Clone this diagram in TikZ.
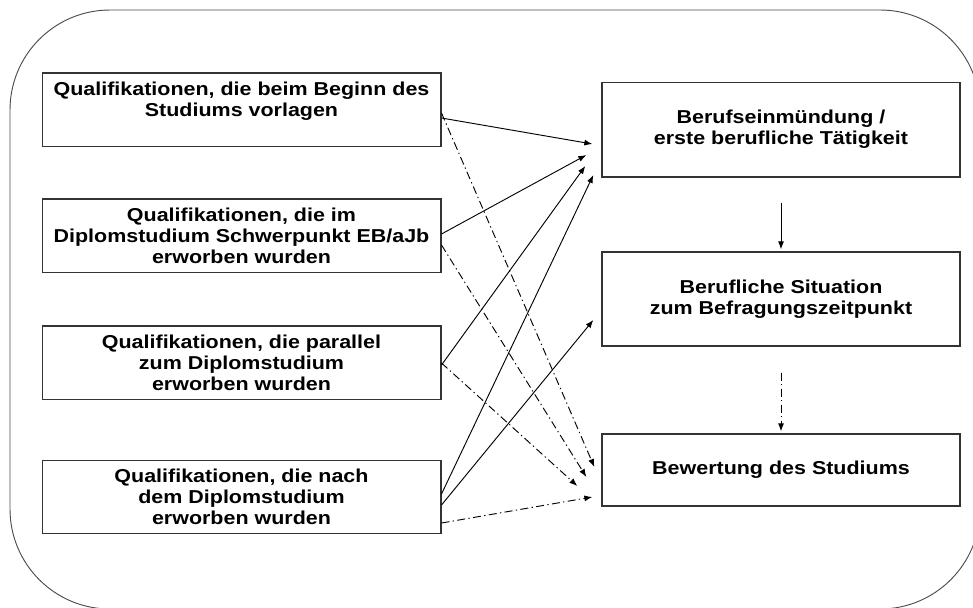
\documentclass[tikz,border=0pt]{standalone}
\usepackage{fontspec}
\setmainfont{Liberation Sans}[FakeStretch=1.15]
\usetikzlibrary{arrows.meta,calc}

\tikzset{
  qual/.style={rectangle,draw=black!80,line width=1pt,minimum width=299pt,minimum height=55pt,
    align=center,font=\fontsize{14}{15.75}\selectfont\bfseries},
  ziel/.style={qual,minimum width=268.5pt},
  pfeil/.style={-{Latex[length=6pt,width=4.5pt]},line width=0.7pt},
  strichpkt/.style={pfeil,dash pattern=on 6pt off 2.5pt on 1pt off 2.5pt}
}

\begin{document}
\begin{tikzpicture}[x=0.75pt,y=-0.75pt]
  \useasboundingbox (0,0) rectangle (973,607);
  \clip (0,0) rectangle (973,607);
  \draw[black!70,line width=0.7pt,rounded corners=75pt] (10,10) rectangle (980,609);

  % Qualifikationen links
  \node[qual] (q1) at (241.5,109.5) {Qualifikationen, die beim Beginn des\\Studiums vorlagen\\\mbox{}};
  \node[qual] (q2) at (241.5,235.5) {Qualifikationen, die im\\Diplomstudium Schwerpunkt EB/aJb\\erworben wurden};
  \node[qual] (q3) at (241.5,362.5) {Qualifikationen, die parallel\\zum Diplomstudium\\erworben wurden};
  \node[qual] (q4) at (241.5,497) {Qualifikationen, die nach\\dem Diplomstudium\\erworben wurden};

  % Ergebnisse rechts
  \node[ziel,minimum height=71pt] (z1) at (781,129.5) {Berufseinmündung /\\erste berufliche Tätigkeit};
  \node[ziel,minimum height=70.5pt] (z2) at (781,299) {Berufliche Situation\\zum Befragungszeitpunkt};
  \node[ziel,minimum height=54pt] (z3) at (781,470) {Bewertung des Studiums};

  \draw[pfeil] ($(q1.east)+(0,8.5)$) -- ($(z1.west)+(-9,14.5)$);
  \draw[pfeil] ($(q2.east)+(0,-1.5)$) -- ($(z1.west)+(-15,25.5)$);
  \draw[pfeil] ($(q3.east)+(0,2.5)$) -- ($(z1.west)+(-16,36.5)$);
  \draw[pfeil] ($(q4.east)+(0,-3)$) -- ($(z1.west)+(-8,45.5)$);
  \draw[pfeil] ($(q4.east)+(0,8)$) -- ($(z2.west)+(-8,21)$);

  \draw[strichpkt] ($(q1.east)+(0,3.5)$) -- ($(z3.west)+(-7,-3)$);
  \draw[strichpkt] ($(q2.east)+(0,9.5)$) -- ($(z3.west)+(-15,7)$);
  \draw[strichpkt] ($(q3.east)+(0,0.5)$) -- ($(z3.west)+(-24,16)$);
  \draw[strichpkt] ($(q4.east)+(0,26)$) -- ($(z3.west)+(-9,27)$);

  \draw[pfeil,shorten <=18.75pt,shorten >=1.5pt] (z1.south) -- (z2.north);
  \draw[strichpkt,shorten <=19.5pt,shorten >=1.5pt] (z2.south) -- (z3.north);
\end{tikzpicture}
\end{document}
